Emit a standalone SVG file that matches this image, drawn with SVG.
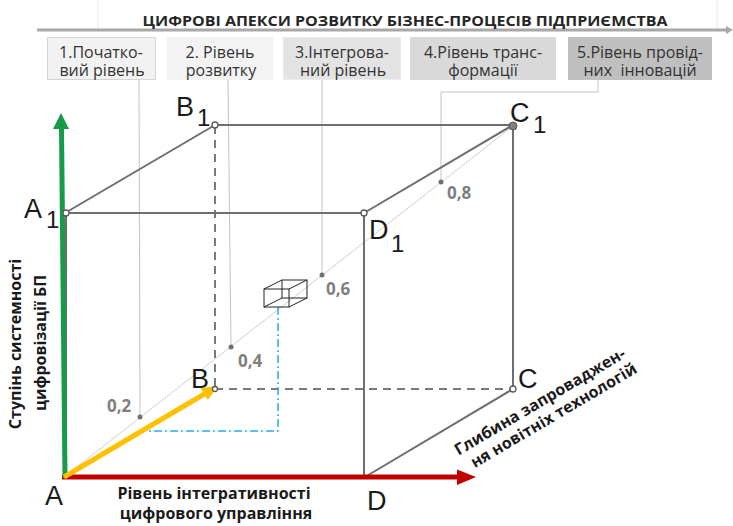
<svg xmlns="http://www.w3.org/2000/svg" width="733" height="526" viewBox="0 0 733 526">
<defs>
<style>
.edge{stroke:#6e6e6e;stroke-width:2;fill:none}
.dash{stroke:#7a7a7a;stroke-width:2;fill:none;stroke-dasharray:8 6}
.lead{stroke:#c4c4c4;stroke-width:1;fill:none}
.vlab{font-family:"Liberation Sans",Arial,sans-serif;font-size:27px;fill:#1a1a1a}
.vsub{font-family:"Liberation Sans",Arial,sans-serif;font-size:24px;fill:#1a1a1a}
.box{font-family:"Open Sans","Noto Sans",sans-serif;font-size:16px;fill:#333;text-anchor:middle}
.num{font-family:"Open Sans","Noto Sans",sans-serif;font-size:17px;font-weight:bold;fill:#7f7f7f}
.axis{font-family:"Open Sans","Noto Sans",sans-serif;font-size:16px;font-weight:bold;fill:#1a1a1a;text-anchor:middle}
.dot{fill:#fff;stroke:#5a5a5a;stroke-width:1.3}
.sdot{fill:#707070}
</style>
</defs>
<rect width="733" height="526" fill="#fff"/>

<g id="title">
<line x1="98" y1="0" x2="98" y2="29" stroke="#ececec" stroke-width="1"/>
<line x1="717" y1="0" x2="717" y2="29" stroke="#ececec" stroke-width="1"/>
<line x1="37" y1="30" x2="727" y2="30" stroke="#a8a8a8" stroke-width="3"/>
<polygon points="726,26 733,30 726,34" fill="#a8a8a8"/>
<text x="405" y="26" text-anchor="middle" textLength="525" lengthAdjust="spacingAndGlyphs" style="font-family:'Open Sans','Noto Sans',sans-serif;font-size:15px;font-weight:bold;fill:#262626">ЦИФРОВІ АПЕКСИ РОЗВИТКУ БІЗНЕС-ПРОЦЕСІВ ПІДПРИЄМСТВА</text>
</g>

<g id="box1">
<rect x="47.5" y="37.5" width="108" height="42" fill="#f2f2f2" stroke="#d4d4d4" stroke-width="1"/>
<text class="box" x="101" y="58">1.Початко-</text>
<text class="box" x="102" y="76">вий рівень</text>
</g>
<g id="box2">
<rect x="167" y="37" width="106" height="43" fill="#f3f3f3"/>
<text class="box" x="220" y="58">2. Рівень</text>
<text class="box" x="221" y="76">розвитку</text>
</g>
<g id="box3">
<rect x="283.5" y="37.5" width="117" height="42" fill="#e3e3e3" stroke="#ececec" stroke-width="1"/>
<text class="box" x="342" y="58">3.Інтегрова-</text>
<text class="box" x="343" y="76">ний рівень</text>
</g>
<g id="box4">
<rect x="410" y="37" width="146" height="43" fill="#d9d9d9"/>
<text class="box" x="483" y="58">4.Рівень транс-</text>
<text class="box" x="483" y="76">формації</text>
</g>
<g id="box5">
<rect x="568" y="37" width="144" height="43" fill="#bfbfbf"/>
<text class="box" x="640" y="58">5.Рівень провід-</text>
<text class="box" x="640" y="76" xml:space="preserve">них  інновацій</text>
</g>

<g id="connectors">
<line class="lead" x1="139" y1="80" x2="140" y2="417"/>
<line class="lead" x1="228" y1="80" x2="231" y2="347"/>
<line class="lead" x1="322" y1="80" x2="322" y2="275"/>
<polyline class="lead" points="598,80 598,92 441,92 441,182"/>
<line x1="64" y1="477" x2="513" y2="126" stroke="#cfcfcf" stroke-width="1"/>
<line class="dash" x1="215" y1="126" x2="215" y2="389"/>
<line class="dash" x1="215" y1="389" x2="513" y2="389"/>
<line class="edge" x1="66" y1="213" x2="66" y2="477"/>
<line class="edge" x1="65" y1="213" x2="364" y2="213"/>
<line class="edge" x1="65" y1="213" x2="215" y2="125"/>
<line class="edge" x1="215" y1="125" x2="513" y2="125"/>
<line class="edge" x1="364" y1="213" x2="513" y2="125"/>
<line class="edge" x1="364" y1="213" x2="364" y2="477"/>
<line class="edge" x1="513" y1="125" x2="513" y2="389"/>
<line class="edge" x1="365" y1="477" x2="513" y2="389"/>
<polyline points="278,307 278,431 147,431" fill="none" stroke="#1fb0ec" stroke-width="1.5" stroke-dasharray="8 3 2 3"/>
<line x1="62" y1="477" x2="458" y2="477" stroke="#c00000" stroke-width="5"/>
<polygon points="457,469.5 476,477 457,485" fill="#c00000"/>
<line x1="65" y1="478" x2="61.5" y2="128" stroke="#169b48" stroke-width="5"/>
<polygon points="53,129 61,113 69,129" fill="#169b48"/>
<line x1="64" y1="477" x2="206" y2="393" stroke="#ffc000" stroke-width="5"/>
<polygon points="218,386 200.6,388.1 207.8,400.1" fill="#ffc000"/>
</g>

<g id="small-cube" fill="none" stroke="#222" stroke-width="1">
<rect x="264" y="289" width="25" height="18"/>
<rect x="282" y="280" width="25" height="18"/>
<line x1="264" y1="289" x2="282" y2="280"/>
<line x1="289" y1="289" x2="307" y2="280"/>
<line x1="289" y1="307" x2="307" y2="298"/>
<line x1="264" y1="307" x2="282" y2="298"/>
</g>

<g id="marks">
<circle class="sdot" cx="140" cy="417" r="2.5"/>
<circle class="sdot" cx="231" cy="347" r="2.5"/>
<circle class="sdot" cx="322" cy="275" r="2.5"/>
<circle class="sdot" cx="441" cy="182" r="2.5"/>
<text class="num" x="107" y="412">0,2</text>
<text class="num" x="238" y="367">0,4</text>
<text class="num" x="326" y="295">0,6</text>
<text class="num" x="447" y="199">0,8</text>
</g>

<g id="A"><text class="vlab" x="45" y="505">A</text></g>
<g id="A1"><circle class="dot" cx="66" cy="213" r="3"/><text class="vlab" x="24" y="218">A</text><text class="vsub" x="46" y="228">1</text></g>
<g id="B1"><circle class="dot" cx="215" cy="125" r="3"/><text class="vlab" x="176" y="116">B</text><text class="vsub" x="197" y="126">1</text></g>
<g id="C1"><circle cx="513" cy="126" r="4" fill="#808080" stroke="#5a5a5a" stroke-width="1"/><text class="vlab" x="510" y="122">C</text><text class="vsub" x="533" y="133">1</text></g>
<g id="D1"><circle class="dot" cx="364" cy="213" r="3"/><text class="vlab" x="369" y="239">D</text><text class="vsub" x="391" y="252">1</text></g>
<g id="B"><circle class="dot" cx="215" cy="389" r="2.5"/><text class="vlab" x="191" y="388">B</text></g>
<g id="C"><circle class="dot" cx="513" cy="389" r="3"/><text class="vlab" x="518" y="388">C</text></g>
<g id="D"><text class="vlab" x="367" y="510">D</text></g>

<g id="labels">
<text class="axis"><tspan x="214" y="499">Рівень інтегративності</tspan><tspan x="216" y="519">цифрового управління</tspan></text>
<g transform="translate(21,344) rotate(-90)"><text class="axis" x="0" y="0">Ступінь системності</text><text class="axis" x="1" y="25">цифровізації БП</text></g>
<g transform="translate(540,402) rotate(-30.5)"><text class="axis" x="0" y="5">Глибина запроваджен-</text><text class="axis" x="5" y="24">ня новітніх технологій</text></g>
</g>
</svg>
